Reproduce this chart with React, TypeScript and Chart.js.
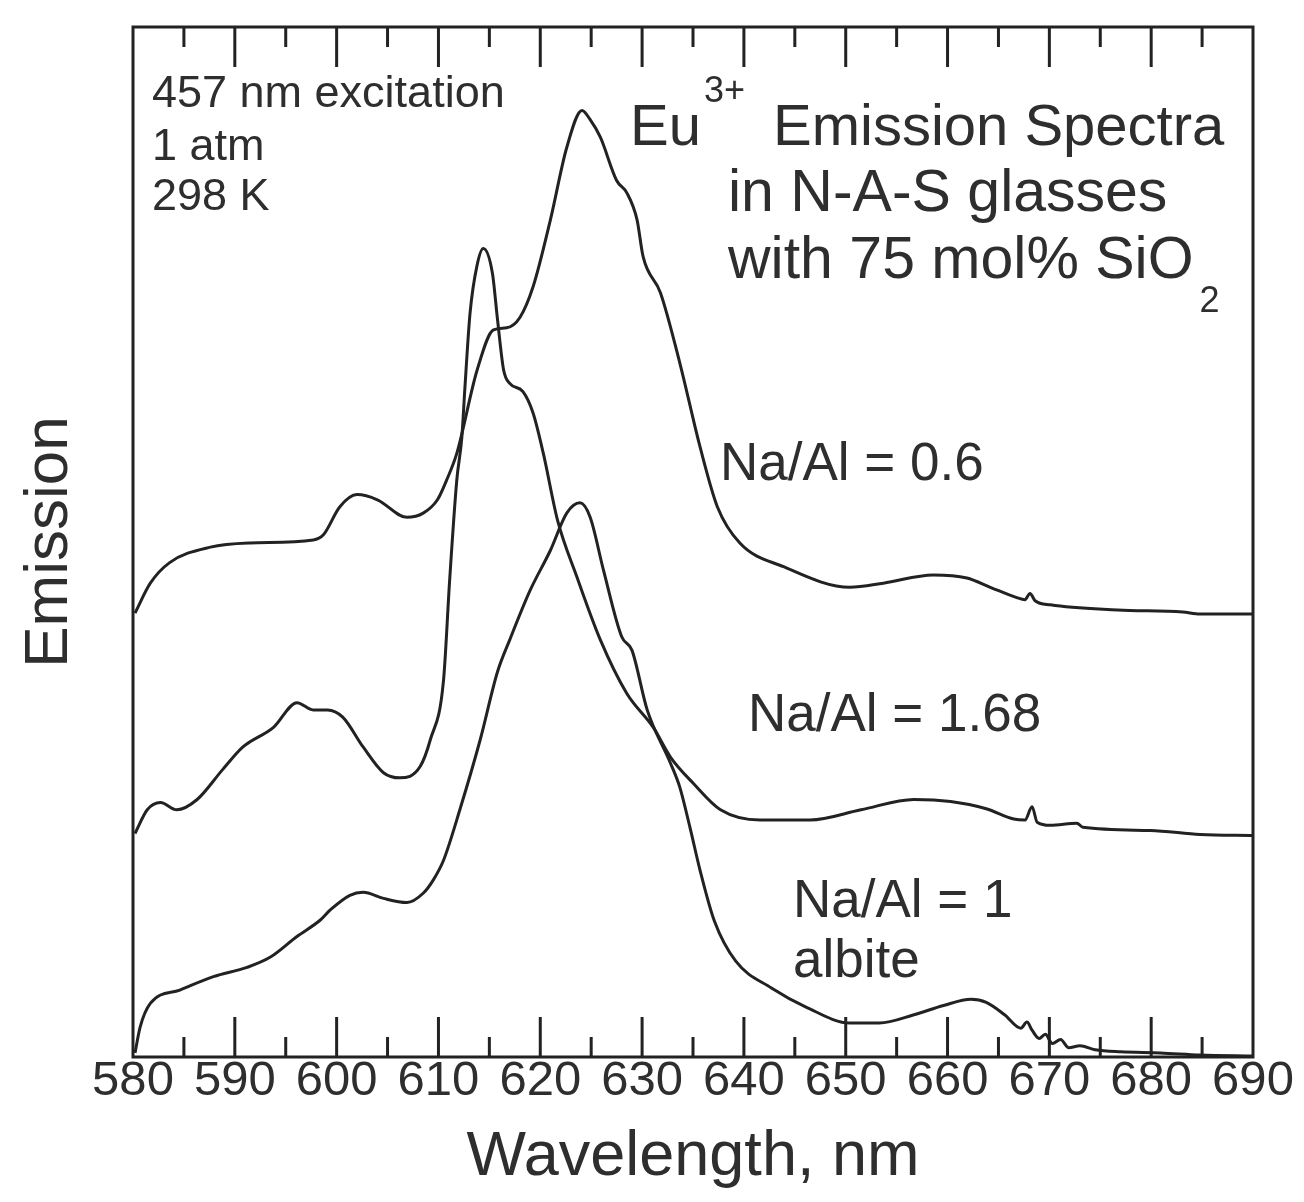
import React, { useEffect, useRef } from "react";
import { Chart, registerables } from "chart.js";

Chart.register(...registerables);

// Wavelength axis (nm)
const xMin = 580;
const xMax = 690;
const xStep = 10;

// Na/Al = 0.6
const naAl06Wavelength = [580.2, 581.7, 583.6, 587.6, 591.5, 597.7, 598.7, 600.3, 602.0, 604.0, 606.9, 608.5, 609.9, 610.8, 611.8, 613.8, 615.4, 616.7, 618.0, 619.3, 621.0, 622.6, 624.1, 624.9, 625.9, 627.5, 628.5, 629.5, 630.1, 631.8, 633.7, 635.7, 637.4, 639.6, 643.9, 650.4, 653.7, 658.6, 661.9, 664.2, 666.8, 667.6, 668.1, 668.6, 670.1, 676.7, 683.1, 684.8, 690.0];
const naAl06Emission = [43.1, 46.0, 48.0, 49.5, 49.9, 50.2, 50.7, 53.4, 54.6, 54.1, 52.4, 52.8, 54.1, 56.0, 58.6, 66.7, 70.6, 70.8, 71.8, 74.8, 81.3, 88.3, 91.9, 91.0, 89.3, 85.1, 83.9, 81.3, 77.7, 74.2, 67.4, 59.2, 53.4, 49.9, 47.6, 45.6, 46.0, 46.8, 46.5, 45.6, 44.6, 44.4, 45.0, 44.3, 43.9, 43.4, 43.2, 43.0, 43.0];

// Na/Al = 1.68
const naAl168Wavelength = [580.2, 581.4, 582.7, 584.3, 586.3, 588.8, 590.8, 593.8, 596.1, 597.7, 599.1, 600.6, 602.6, 604.6, 606.2, 608.2, 609.2, 610.5, 611.1, 611.8, 612.3, 612.6, 613.1, 613.8, 614.4, 615.3, 615.8, 616.4, 617.0, 618.3, 619.3, 620.3, 621.7, 623.6, 625.9, 628.5, 631.1, 632.8, 635.0, 637.7, 641.6, 646.5, 651.5, 656.7, 660.3, 663.8, 666.5, 667.6, 668.3, 668.8, 670.1, 672.7, 673.3, 679.9, 684.8, 690.0];
const naAl168Emission = [21.7, 24.0, 24.7, 24.0, 25.0, 27.9, 30.1, 32.0, 34.4, 33.7, 33.7, 33.0, 30.1, 27.6, 27.1, 28.2, 30.8, 36.6, 46.3, 56.0, 60.2, 65.0, 72.2, 76.9, 78.5, 76.1, 71.6, 66.7, 65.4, 64.6, 62.5, 58.6, 52.1, 46.6, 40.5, 35.3, 32.0, 29.1, 26.6, 24.0, 23.0, 23.0, 24.0, 25.0, 24.8, 24.1, 23.1, 23.0, 24.3, 22.8, 22.5, 22.7, 22.3, 22.0, 21.6, 21.5];

// Na/Al = 1 (albite)
const albiteWavelength = [580.2, 580.7, 581.7, 584.6, 587.9, 591.2, 593.5, 596.1, 598.4, 599.4, 601.3, 602.6, 604.6, 606.9, 608.5, 609.5, 610.5, 612.1, 614.1, 615.8, 617.0, 619.0, 621.0, 622.6, 623.9, 624.9, 626.2, 628.0, 629.0, 630.5, 632.8, 633.7, 634.7, 635.7, 637.1, 639.2, 642.7, 646.2, 650.4, 653.3, 656.7, 659.6, 662.3, 663.8, 665.6, 667.2, 667.8, 668.3, 669.0, 669.6, 670.3, 671.1, 671.9, 673.0, 674.5, 677.0, 680.9, 684.8, 690.0];
const albiteEmission = [0.4, 2.9, 5.2, 6.5, 7.8, 8.7, 9.7, 11.7, 13.3, 14.3, 15.7, 16.0, 15.4, 15.0, 15.9, 17.2, 19.1, 24.0, 30.8, 37.4, 40.5, 45.3, 49.2, 52.8, 53.8, 52.4, 47.3, 40.8, 39.5, 33.7, 28.5, 26.2, 22.3, 18.1, 13.2, 9.3, 6.7, 4.8, 3.3, 3.3, 4.1, 5.0, 5.6, 5.3, 4.1, 2.8, 3.4, 2.6, 1.8, 2.2, 1.3, 1.7, 0.9, 1.1, 0.7, 0.5, 0.4, 0.2, 0.1];

const FONT = '"Liberation Sans", Arial, Helvetica, sans-serif';
const INK = "#222222";
const TEXT = "#2e2e2e";

const toPoints = (xs: number[], ys: number[]) => xs.map((x, i) => ({ x, y: ys[i] }));

// Box frame, inward tick marks on top and bottom, and the in-plot annotations
const framePlugin = {
  id: "frameAndNotes",
  afterDraw(chart: any) {
    const { ctx, chartArea, scales } = chart;
    const { left, right, top, bottom } = chartArea;
    const x = scales.x;
    ctx.save();
    ctx.strokeStyle = INK;
    ctx.lineWidth = 3;
    ctx.lineCap = "butt";
    for (let v = xMin + xStep / 2; v < xMax; v += xStep / 2) {
      const px = x.getPixelForValue(v);
      const len = Math.abs(v % xStep) < 1e-6 ? 40 : 20;
      ctx.beginPath();
      ctx.moveTo(px, bottom);
      ctx.lineTo(px, bottom - len);
      ctx.moveTo(px, top);
      ctx.lineTo(px, top + len);
      ctx.stroke();
    }
    ctx.strokeRect(left, top, right - left, bottom - top);

    ctx.fillStyle = TEXT;
    ctx.textBaseline = "alphabetic";
    ctx.textAlign = "left";

    ctx.font = `45px ${FONT}`;
    ctx.fillText("457 nm excitation", 152, 107);
    ctx.fillText("1 atm", 152, 160);
    ctx.fillText("298 K", 152, 210);

    ctx.font = `58px ${FONT}`;
    ctx.fillText("Eu", 630, 145);
    const euW = ctx.measureText("Eu").width;
    ctx.font = `36px ${FONT}`;
    ctx.fillText("3+", 630 + euW + 3, 102);
    ctx.font = `58px ${FONT}`;
    ctx.fillText("Emission Spectra", 773, 145);
    ctx.font = `59px ${FONT}`;
    ctx.fillText("in N-A-S glasses", 728, 211);
    ctx.fillText("with 75 mol% SiO", 728, 278);
    const withW = ctx.measureText("with 75 mol% SiO").width;
    ctx.font = `36px ${FONT}`;
    ctx.fillText("2", 728 + withW + 6, 312);

    ctx.font = `53px ${FONT}`;
    ctx.fillText("Na/Al = 0.6", 720, 480);
    ctx.fillText("Na/Al = 1.68", 748, 731);
    ctx.fillText("Na/Al = 1", 793, 917);
    ctx.fillText("albite", 793, 977);
    ctx.restore();
  },
};

export default function App() {
  const canvasRef = useRef<HTMLCanvasElement>(null);

  useEffect(() => {
    const canvas = canvasRef.current;
    if (!canvas) return;
    const line = (label: string, xs: number[], ys: number[]) => ({
      label,
      data: toPoints(xs, ys),
      borderColor: INK,
      borderWidth: 3,
      pointRadius: 0,
      fill: false,
      cubicInterpolationMode: "monotone" as const,
    });
    const chart = new Chart(canvas, {
      type: "line",
      data: {
        datasets: [
          line("Na/Al = 0.6", naAl06Wavelength, naAl06Emission),
          line("Na/Al = 1.68", naAl168Wavelength, naAl168Emission),
          line("Na/Al = 1 albite", albiteWavelength, albiteEmission),
        ],
      },
      options: {
        responsive: false,
        animation: false,
        devicePixelRatio: 1,
        layout: { padding: { top: 27, right: 51, left: 0, bottom: 0 } },
        plugins: {
          legend: { display: false },
          tooltip: { enabled: false },
        },
        scales: {
          x: {
            type: "linear",
            min: xMin,
            max: xMax,
            grid: { display: false, drawTicks: false },
            border: { display: false },
            ticks: {
              stepSize: xStep,
              autoSkip: false,
              maxRotation: 0,
              padding: 0,
              color: TEXT,
              font: { family: FONT, size: 49, lineHeight: 1 },
            },
            title: {
              display: true,
              text: "Wavelength, nm",
              color: TEXT,
              font: { family: FONT, size: 63, lineHeight: 1 },
              padding: { top: 0, bottom: 13 },
            },
            afterFit: (scale: any) => {
              scale.height = 145;
            },
          },
          y: {
            type: "linear",
            min: 0,
            max: 100,
            grid: { display: false, drawTicks: false },
            border: { display: false },
            ticks: { display: false },
            title: {
              display: true,
              text: "Emission",
              color: TEXT,
              font: { family: FONT, size: 62, lineHeight: 1 },
              padding: { top: 19, bottom: 0 },
            },
            afterFit: (scale: any) => {
              scale.width = 133;
            },
          },
        },
      },
      plugins: [framePlugin],
    });
    return () => chart.destroy();
  }, []);

  return (
    <div style={{ position: "absolute", left: 0, top: 0, width: 1304, height: 1202, background: "#ffffff" }}>
      <canvas ref={canvasRef} width={1304} height={1202} style={{ display: "block" }} />
    </div>
  );
}
